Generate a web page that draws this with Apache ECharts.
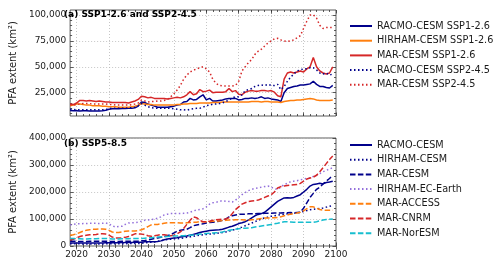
<!DOCTYPE html>
<html><head><meta charset="utf-8">
<script src="https://cdn.jsdelivr.net/npm/echarts@6/dist/echarts.min.js"></script>
<style>html,body{margin:0;padding:0;background:#fff}#c{width:500px;height:263px}</style>
</head><body><div id="c"></div>
<script>
// ---- data ----
const years = [2018,2019,2020,2021,2022,2023,2024,2025,2026,2027,2028,2029,
2030,2031,2032,2033,2034,2035,2036,2037,2038,2039,
2040,2041,2042,2043,2044,2045,2046,2047,2048,2049,
2050,2051,2052,2053,2054,2055,2056,2057,2058,2059,
2060,2061,2062,2063,2064,2065,2066,2067,2068,2069,
2070,2071,2072,2073,2074,2075,2076,2077,2078,2079,
2080,2081,2082,2083,2084,2085,2086,2087,2088,2089,
2090,2091,2092,2093,2094,2095,2096,2097,2098,2099];

// panel (a) SSP1-2.6 and SSP2-4.5
const racmoCesm126 = [7800,7500,7500,7300,7500,7500,7300,7300,7300,7300,7500,8000,
9000,9500,9500,9500,9800,9800,10000,10000,10500,12000,
16000,15500,14000,13000,12000,11000,11000,11000,11000,11500,
12000,13000,13500,16000,16500,19500,18000,18500,21000,23000,
18000,19500,17000,17000,17500,18000,19000,19500,19500,19500,
18000,18500,19500,19500,20000,19500,20000,21000,19500,20000,
19000,18500,18000,16500,25000,29000,30000,31000,31500,32500,
32500,33000,33500,36000,33000,31000,31000,30000,29500,32000];
const hirhamCesm126 = [12500,13000,14000,14000,13500,13000,13000,12500,12500,12500,12000,12000,
11500,11500,11500,11000,11000,11000,11000,11500,12000,13000,
14500,14000,13500,13500,13000,13000,13000,13000,13000,13000,
13000,13500,13500,14000,14000,14500,14500,14500,15000,15000,
15000,15000,15500,15500,15500,16000,16000,16000,16000,16000,
16000,16000,16000,16000,16500,16500,16500,16000,16500,16500,
16000,16000,16000,15500,16500,17000,17500,17500,18000,18000,
18500,19000,19500,19000,18000,17500,17500,17500,17500,18000];
const marCesm126 = [14000,13500,15000,17500,17500,17000,17500,17000,16500,17000,16500,16000,
16000,15500,15500,15500,15500,15500,15000,16000,17000,18500,
21500,21000,20000,20500,19500,19500,19500,19500,19000,19500,
20000,20500,20000,21000,23000,26000,23000,24000,28000,26000,
26500,27500,25000,25500,25500,25500,26000,29000,26000,27000,
23500,23000,25500,26500,27000,26500,26500,27000,27000,26500,
27000,25500,22000,21000,38000,44000,45000,44000,45000,46000,
45000,48000,50000,59000,50000,46000,44000,43000,44000,50000];
const racmoCesm245 = [9000,9000,8500,8500,8500,8500,8500,8500,8500,8500,8500,8800,
9500,10000,10000,10000,10000,10000,10500,10500,11000,12500,
14500,13000,11500,10500,10000,10000,10000,10000,10000,10000,
9500,9000,8500,8500,8000,9000,9500,10000,10000,11000,
12500,13000,14000,14000,14500,15000,16500,18000,20000,21000,
21000,23000,27000,28000,29000,31000,32000,32500,32000,33000,
32000,32000,33000,28000,31000,36000,40000,43000,46000,47000,
48000,48000,49000,49000,47000,44000,43000,44000,42000,43000];
const marCesm245 = [13000,13000,13500,14000,14500,14500,14500,14000,14000,14000,14000,14000,
13500,13500,13000,13000,13000,13000,13000,13500,14000,15000,
18000,17000,16000,16500,16500,17000,17000,17500,18500,21000,
24000,27500,32000,38000,42000,45000,46500,48000,49000,50000,
48000,45000,38000,34000,32000,31500,31500,31500,31500,32000,
36000,46000,50000,54000,57000,62000,65000,67000,70000,73000,
75000,77000,77500,76000,75000,74500,75000,76000,78000,80000,
87000,94000,100000,100200,97000,90000,87000,88000,88000,88000];

// panel (b) SSP5-8.5
const racmoCesm585 = [11000,11000,11000,11000,11000,11000,11000,11000,11000,11000,11500,12000,
12000,12000,12000,12000,12500,13000,13000,13000,13500,13500,
14000,16000,16000,16000,16000,17000,19000,23000,26000,28000,
30000,31000,33000,35000,37000,40000,43000,46000,50000,53000,
55000,57000,58000,59000,60000,62000,66000,70000,73000,78000,
83000,86000,90000,96000,104000,112000,117000,120000,125000,135000,
145000,155000,165000,172000,178000,179000,178000,180000,185000,190000,
200000,210000,222000,228000,230000,232000,230000,235000,237000,240000];
const hirhamCesm585 = [8000,8000,8000,8000,7500,7500,7500,7500,7500,7500,7500,8000,
8000,8000,8000,8500,8500,8500,9000,9000,9000,9500,
10000,12000,13000,14000,15000,17000,20000,22000,24000,25000,
26000,27000,28000,30000,32000,34000,36000,38000,40000,42000,
43000,44000,45000,46000,48000,50000,52000,55000,58000,62000,
66000,70000,75000,80000,85000,90000,95000,100000,104000,107000,
110000,112000,114000,116000,118000,119000,120000,121000,122000,125000,
128000,131000,134000,136000,138000,139000,141000,144000,147000,150000];
const marCesm585 = [18000,18000,17000,17000,17000,17000,17500,17500,18000,18000,18000,18000,
17000,17000,17000,17000,18000,18000,18000,18000,18000,18000,
19000,20000,22000,25000,28000,30000,32000,35000,38000,42000,
48000,55000,58000,60000,62000,68000,75000,78000,80000,82000,
85000,87000,88000,90000,92000,95000,100000,108000,112000,115000,
117000,118000,118000,119000,119000,119000,120000,120000,121000,121000,
121000,122000,122000,122000,123000,123000,124000,123000,124000,125000,
140000,160000,180000,195000,210000,218000,230000,240000,250000,262000];
const hirhamEcEarth585 = [78000,80000,82000,82000,83000,83000,84000,84000,84000,83000,84000,85000,
82000,75000,70000,72000,73000,80000,85000,86000,86000,88000,
92000,95000,96000,98000,100000,103000,108000,115000,118000,120000,
120000,120000,120000,121000,122000,125000,130000,133000,135000,138000,
145000,155000,160000,162000,165000,168000,166000,165000,163000,170000,
180000,190000,198000,205000,210000,213000,215000,218000,220000,222000,
218000,212000,210000,218000,228000,232000,238000,240000,242000,245000,
248000,250000,252000,258000,262000,268000,275000,280000,285000,290000];
const marAccess585 = [40000,42000,45000,50000,55000,58000,60000,62000,62000,63000,63000,62000,
58000,52000,50000,50000,52000,55000,56000,56000,56000,57000,
60000,65000,72000,78000,80000,80000,82000,84000,86000,86000,
86000,86000,85000,85000,86000,87000,88000,88000,90000,90000,
90000,90000,92000,92000,93000,94000,95000,96000,96000,97000,
97000,97000,96000,95000,97000,98000,100000,102000,104000,104000,
104000,105000,106000,108000,112000,115000,118000,120000,122000,125000,
130000,138000,145000,145000,140000,135000,133000,132000,132000,132000];
const marCnrm585 = [22000,25000,30000,35000,38000,40000,42000,42000,43000,45000,45000,44000,
40000,33000,30000,30000,30000,32000,35000,40000,45000,45000,
44000,42000,38000,36000,38000,40000,42000,42000,40000,38000,
40000,45000,52000,65000,80000,95000,108000,105000,95000,90000,
90000,92000,95000,97000,98000,99000,100000,105000,120000,135000,
145000,155000,160000,165000,167000,168000,170000,175000,180000,185000,
190000,200000,215000,220000,222000,224000,226000,227000,228000,232000,
240000,248000,252000,255000,262000,275000,290000,305000,320000,333000];
const marNorEsm585 = [28000,28000,27000,27000,26000,26000,27000,27000,27000,28000,28000,28000,
27000,26000,26000,26000,27000,27000,27000,28000,28000,28000,
28000,29000,30000,31000,32000,33000,33000,34000,35000,36000,
37000,37000,38000,38000,39000,40000,41000,42000,44000,45000,
46000,47000,48000,49000,50000,52000,55000,58000,60000,62000,
64000,65000,66000,67000,68000,70000,72000,74000,76000,78000,
80000,82000,84000,87000,90000,90000,89000,88000,88000,88000,
88000,88000,88000,88000,90000,93000,96000,98000,99000,100000];

// ticks
const xTicks = [2020,2030,2040,2050,2060,2070,2080,2090,2100];
const xMinorTicks = [2020,2022,2024,2026,2028,2030,2032,2034,2036,2038,2040,2042,2044,2046,2048,2050,2052,2054,2056,2058,2060,2062,2064,2066,2068,2070,2072,2074,2076,2078,2080,2082,2084,2086,2088,2090,2092,2094,2096,2098];
const yTicksA = [25000,50000,75000,100000];
const yMinorA = [5000,10000,15000,20000,30000,35000,40000,45000,55000,60000,65000,70000,80000,85000,90000,95000];
const yTicksB = [0,100000,200000,300000,400000];
const yMinorB = [20000,40000,60000,80000,120000,140000,160000,180000,220000,240000,260000,280000,320000,340000,360000,380000];

const titleA = '(a) SSP1-2.6 and SSP2-4.5';
const titleB = '(b) SSP5-8.5';
const yName = 'PFA extent (km²)';

// ---- chart ----
const FONT = 'DejaVu Sans';
const TXT = '#1a1a1a';
const FRAME = '#333';
const NAVY = '#00008b', ORANGE = '#ff7f0e', RED = '#d62728', PURPLE = '#9370db', CYAN = '#17becf';
const DOT = [1.5, 2.5], DASH = [5.5, 2.4];

const X0 = 2018, X1 = 2100, YA0 = 2500, YA1 = 104800, YB0 = 0, YB1 = 400000;

function tickOnly(grid, pos, min, max, vals, len) {
  return {type:'value', gridIndex:grid, position:pos, min:min, max:max,
    axisLine:{show:false}, axisLabel:{show:false}, splitLine:{show:false},
    axisTick:{show:true, inside:true, length:len, customValues:vals, lineStyle:{color:FRAME, width:0.8}}};
}
function mainX(grid, showLabels) {
  return {type:'value', gridIndex:grid, position:'bottom', min:X0, max:X1,
    axisLine:{show:false},
    axisTick:{show:true, inside:true, length:3.5, customValues:xTicks, lineStyle:{color:FRAME, width:0.8}},
    axisLabel:{show:showLabels, customValues:xTicks, fontFamily:FONT, fontSize:9, color:TXT, margin:4,
      formatter:v => String(v)},
    splitLine:{show:true, lineStyle:{color:'#b8b8b8', width:0.8, type:[1,2]}}};
}
function mainY(grid, min, max, ticks) {
  return {type:'value', gridIndex:grid, position:'left', min:min, max:max,
    name:yName, nameLocation:'middle', nameGap:47,
    nameTextStyle:{fontFamily:FONT, fontSize:10, color:TXT},
    axisLine:{show:false},
    axisTick:{show:true, inside:true, length:3.5, customValues:ticks, lineStyle:{color:FRAME, width:0.8}},
    axisLabel:{show:true, customValues:ticks, fontFamily:FONT, fontSize:9, color:TXT, margin:4,
      formatter:v => Number(v).toLocaleString('en-US')},
    splitLine:{show:true, lineStyle:{color:'#b8b8b8', width:0.8, type:[1,2]}}};
}

const xAxes = [
  mainX(0, false), tickOnly(0,'bottom',X0,X1,xMinorTicks,2), tickOnly(0,'top',X0,X1,xTicks,3.5), tickOnly(0,'top',X0,X1,xMinorTicks,2),
  mainX(1, true),  tickOnly(1,'bottom',X0,X1,xMinorTicks,2), tickOnly(1,'top',X0,X1,xTicks,3.5), tickOnly(1,'top',X0,X1,xMinorTicks,2)
];
const yAxes = [
  mainY(0, YA0, YA1, yTicksA), tickOnly(0,'left',YA0,YA1,yMinorA,2), tickOnly(0,'right',YA0,YA1,yTicksA,3.5), tickOnly(0,'right',YA0,YA1,yMinorA,2),
  mainY(1, YB0, YB1, yTicksB), tickOnly(1,'left',YB0,YB1,yMinorB,2), tickOnly(1,'right',YB0,YB1,yTicksB,3.5), tickOnly(1,'right',YB0,YB1,yMinorB,2)
];

function ser(name, vals, color, type, panel) {
  return {type:'line', name:name, xAxisIndex: panel ? 4 : 0, yAxisIndex: panel ? 4 : 0,
    data: years.map((y, i) => [y, vals[i]]), symbol:'none', showSymbol:false,
    lineStyle:{color:color, width:1.5, type:type}, itemStyle:{color:color},
    emphasis:{disabled:true}, animation:false};
}

const seriesA = [
  ser('RACMO-CESM SSP1-2.6', racmoCesm126, NAVY, 'solid', 0),
  ser('HIRHAM-CESM SSP1-2.6', hirhamCesm126, ORANGE, 'solid', 0),
  ser('MAR-CESM SSP1-2.6', marCesm126, RED, 'solid', 0),
  ser('RACMO-CESM SSP2-4.5', racmoCesm245, NAVY, DOT, 0),
  ser('MAR-CESM SSP2-4.5', marCesm245, RED, DOT, 0)
];
const seriesB = [
  ser('RACMO-CESM', racmoCesm585, NAVY, 'solid', 1),
  ser('HIRHAM-CESM', hirhamCesm585, NAVY, DOT, 1),
  ser('MAR-CESM', marCesm585, NAVY, DASH, 1),
  ser('HIRHAM-EC-Earth', hirhamEcEarth585, PURPLE, DOT, 1),
  ser('MAR-ACCESS', marAccess585, ORANGE, DASH, 1),
  ser('MAR-CNRM', marCnrm585, RED, DASH, 1),
  ser('MAR-NorESM', marNorEsm585, CYAN, DASH, 1)
];

const legendBase = {orient:'vertical', left:349, itemWidth:22, itemHeight:10, itemGap:4.7,
  itemStyle:{opacity:0}, textStyle:{fontFamily:FONT, fontSize:9.7, color:TXT}, selectedMode:false, padding:0};

const chart = echarts.init(document.getElementById('c'), null, {renderer:'canvas'});
chart.setOption({
  animation:false,
  backgroundColor:'#fff',
  grid:[
    {left:61, top:10, width:275, height:106, show:true, borderColor:FRAME, borderWidth:0.8, backgroundColor:'transparent'},
    {left:61, top:138, width:275, height:108, show:true, borderColor:FRAME, borderWidth:0.8, backgroundColor:'transparent'}
  ],
  title:[
    {text:titleA, left:64, top:10, padding:0, textStyle:{fontFamily:FONT, fontSize:9, fontWeight:'bold', color:'#000'}},
    {text:titleB, left:64, top:139, padding:0, textStyle:{fontFamily:FONT, fontSize:9, fontWeight:'bold', color:'#000'}}
  ],
  legend:[
    Object.assign({}, legendBase, {top:21, data:seriesA.map(s => s.name)}),
    Object.assign({}, legendBase, {top:140, data:seriesB.map(s => s.name)})
  ],
  xAxis:xAxes,
  yAxis:yAxes,
  series:seriesA.concat(seriesB)
});
</script>
</body></html>
